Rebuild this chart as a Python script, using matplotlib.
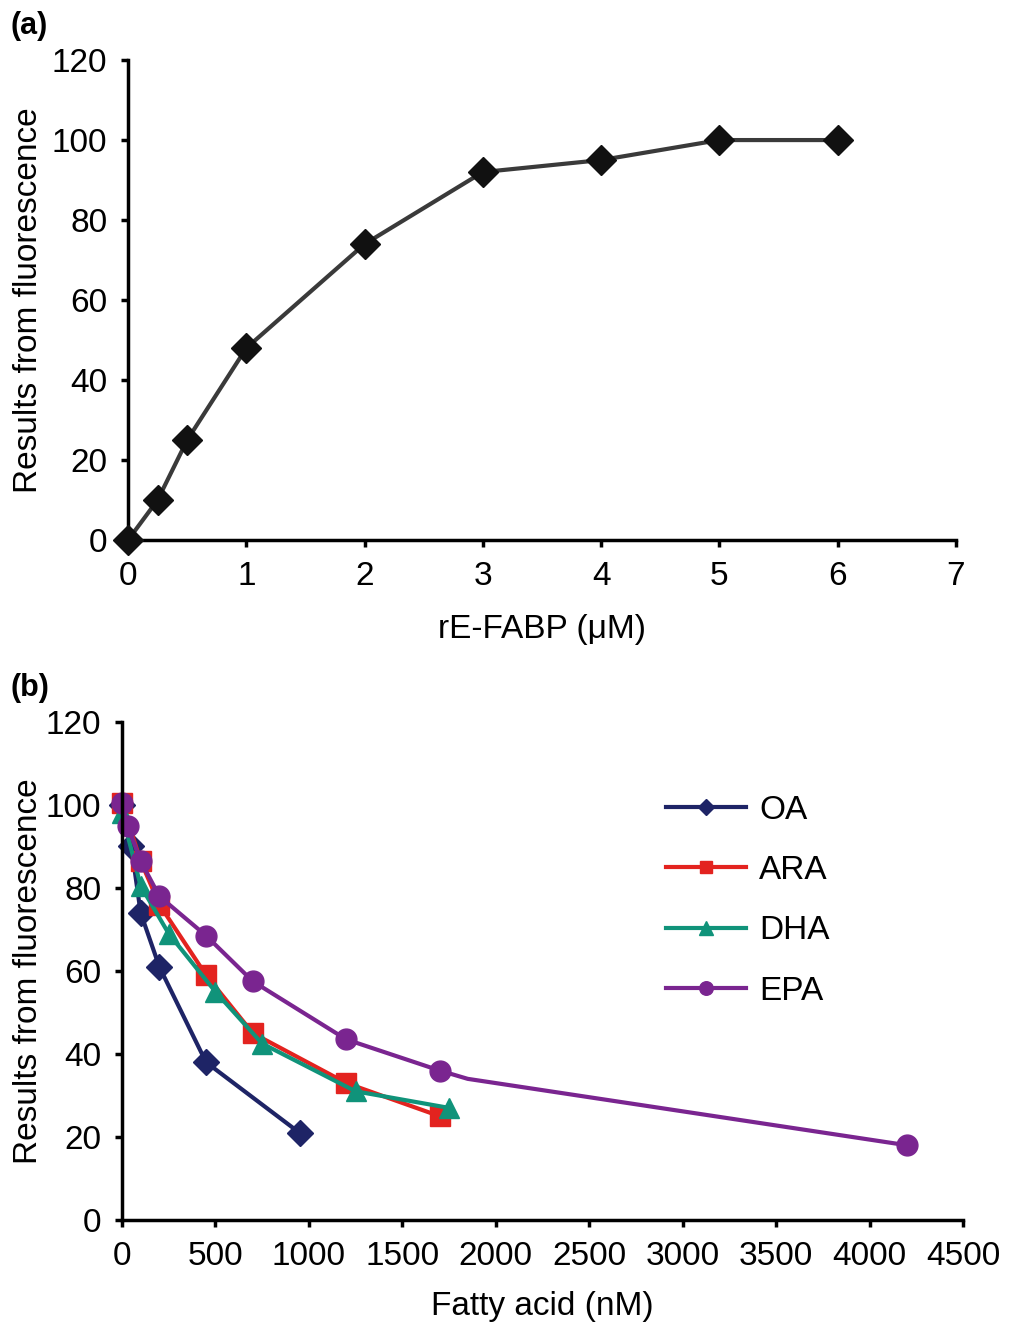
import matplotlib.pyplot as plt
import numpy as np

plt.rcParams['font.family'] = ['Liberation Sans', 'DejaVu Sans']

# panel (a)
fabp_conc = [0, 0.25, 0.5, 1, 2, 3, 4, 5, 6]
fabp_fluo = [0, 10, 25, 48, 74, 92, 95, 100, 100]

# panel (b)
oa_x = [0, 50, 100, 200, 450, 950]
oa_y = [100, 90, 74, 61, 38, 21]
ara_x = [0, 100, 200, 450, 700, 1200, 1700]
ara_y = [100.5, 86.5, 76, 59, 45, 33, 25]
dha_x = [0, 100, 250, 500, 750, 1250, 1750]
dha_y = [98, 80.5, 69, 55, 42.5, 31, 27]
epa_x = [0, 30, 100, 200, 450, 700, 1200, 1700, 1850, 4200]
epa_y = [100.5, 95, 86.5, 78, 68.5, 57.5, 43.5, 36, 34, 18]
epa_marked = [0, 1, 2, 3, 4, 5, 6, 7, 9]

fig = plt.figure(figsize=(10.13, 13.23), dpi=100)
ax1 = fig.add_axes([0.1264, 0.5918, 0.8173, 0.3628])
ax2 = fig.add_axes([0.1204, 0.0779, 0.8302, 0.3764])

fs = 24

ax1.plot(fabp_conc, fabp_fluo, '-', color='#3a3a3a', lw=3, marker='D', ms=15,
         mfc='#111111', mec='#111111', clip_on=False, zorder=3)
ax1.set_xlim(0, 7)
ax1.set_ylim(0, 120)
ax1.set_xticks(range(0, 8))
ax1.set_yticks(range(0, 121, 20))
ax1.set_xlabel('rE-FABP (\u03bcM)', fontsize=fs, labelpad=16)
ax1.set_ylabel('Results from fluorescence', fontsize=fs)
ax1.yaxis.set_label_coords(-0.102, 0.5)

series = [
    ('OA', oa_x, oa_y, '#1e2466', 'D', 13, None),
    ('ARA', ara_x, ara_y, '#e3231f', 's', 14, None),
    ('DHA', dha_x, dha_y, '#10937a', '^', 15, None),
    ('EPA', epa_x, epa_y, '#7a2590', 'o', 15, epa_marked),
]
for name, xs, ys, col, mk, ms, me in series:
    ax2.plot(xs, ys, '-', color=col, lw=3, marker=mk, ms=ms, mfc=col, mec=col,
             markevery=me, label=name, clip_on=False)
ax2.set_xlim(0, 4500)
ax2.set_ylim(0, 120)
ax2.set_xticks(range(0, 4501, 500))
ax2.set_yticks(range(0, 121, 20))
ax2.set_xlabel('Fatty acid (nM)', fontsize=fs, labelpad=14)
ax2.set_ylabel('Results from fluorescence', fontsize=fs)
ax2.yaxis.set_label_coords(-0.093, 0.5)
leg = ax2.legend(loc='upper left', bbox_to_anchor=(0.611, 0.914), frameon=False,
                 fontsize=fs, handlelength=2.4, labelspacing=0.88, handletextpad=0.4,
                 markerscale=0.65)

for ax in (ax1, ax2):
    for s in ('top', 'right'):
        ax.spines[s].set_visible(False)
    for s in ('left', 'bottom'):
        ax.spines[s].set_linewidth(2.5)
    ax.tick_params(labelsize=fs, width=2.5, length=5, direction='out', pad=10)

fig.text(0.01, 0.992, '(a)', fontsize=22, fontweight='bold', va='top')
fig.text(0.01, 0.491, '(b)', fontsize=22, fontweight='bold', va='top')

fig.savefig('out.png', dpi=100)
